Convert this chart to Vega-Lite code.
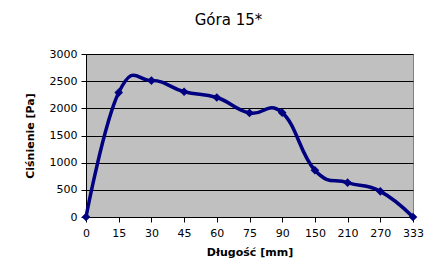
{
  "$schema": "https://vega.github.io/schema/vega-lite/v6.json",
  "width": 327,
  "height": 163,
  "autosize": {"type": "none"},
  "padding": {"left": 86, "top": 54, "right": 25, "bottom": 57},
  "background": "white",
  "title": {
    "text": "Góra 15*",
    "font": "DejaVu Sans",
    "fontSize": 15,
    "fontWeight": "normal",
    "color": "black",
    "anchor": "middle",
    "dx": -21,
    "offset": 20
  },
  "data": {
    "values": [
      {"mm": 0, "p": 0},
      {"mm": 15, "p": 2290},
      {"mm": 30, "p": 2510},
      {"mm": 45, "p": 2305},
      {"mm": 60, "p": 2200},
      {"mm": 75, "p": 1915},
      {"mm": 90, "p": 1920},
      {"mm": 150, "p": 860},
      {"mm": 210, "p": 632},
      {"mm": 270, "p": 472},
      {"mm": 333, "p": 0}
    ]
  },
  "encoding": {
    "x": {
      "field": "mm",
      "type": "ordinal",
      "scale": {"type": "point", "padding": 0, "domain": [0, 15, 30, 45, 60, 75, 90, 150, 210, 270, 333]},
      "axis": {
        "title": "Długość [mm]",
        "labelAngle": 0,
        "grid": false,
        "domainColor": "black",
        "tickColor": "black",
        "tickSize": 5,
        "labelPadding": 5,
        "labelFont": "DejaVu Sans",
        "labelFontSize": 11,
        "labelColor": "black",
        "titleFont": "DejaVu Sans",
        "titleFontSize": 11,
        "titleFontWeight": "bold",
        "titleColor": "black",
        "titlePadding": 8
      }
    },
    "y": {
      "field": "p",
      "type": "quantitative",
      "scale": {"domain": [0, 3000], "nice": false},
      "axis": {
        "title": "Ciśnienie [Pa]",
        "values": [0, 500, 1000, 1500, 2000, 2500, 3000],
        "format": "d",
        "grid": true,
        "gridColor": "black",
        "gridOpacity": 1,
        "domainColor": "black",
        "tickColor": "black",
        "tickSize": 5,
        "labelPadding": 4,
        "labelFont": "DejaVu Sans",
        "labelFontSize": 11,
        "labelColor": "black",
        "titleFont": "DejaVu Sans",
        "titleFontSize": 11,
        "titleFontWeight": "bold",
        "titleColor": "black",
        "titlePadding": 14
      }
    }
  },
  "layer": [
    {
      "mark": {"type": "line", "interpolate": "cardinal", "tension": -0.35, "color": "#000080", "strokeWidth": 3.5}
    },
    {
      "mark": {"type": "point", "shape": "diamond", "filled": true, "size": 75, "color": "#000080", "opacity": 1}
    }
  ],
  "config": {
    "view": {"fill": "#C0C0C0", "stroke": "#808080", "strokeWidth": 1}
  }
}
